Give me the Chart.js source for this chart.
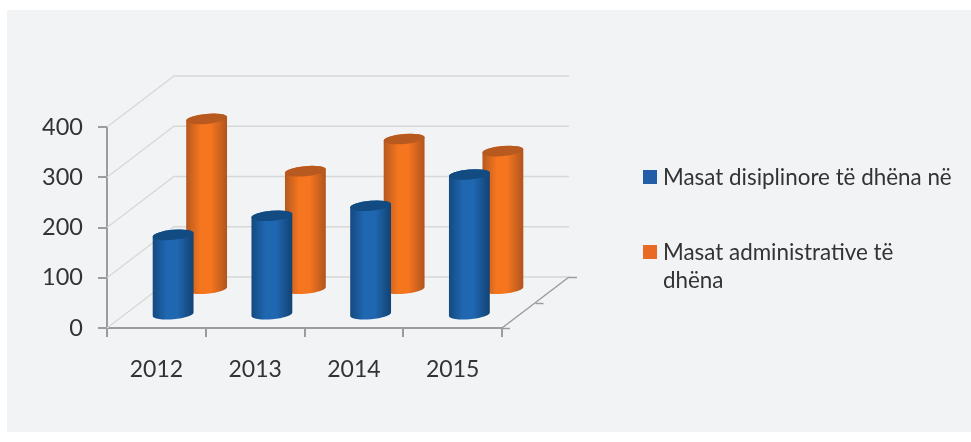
<!DOCTYPE html>
<html>
<head>
<meta charset="utf-8">
<title>Masat disiplinore dhe administrative</title>
<script src="https://cdn.jsdelivr.net/npm/chart.js@4/dist/chart.umd.min.js"></script>
<style>
  html, body { margin: 0; background: #fff; }
  #panel { position: absolute; left: 7px; top: 10px; width: 964px; height: 422px; background: #f1f3f5; }
  #wrap { position: absolute; left: 0; top: 0; width: 971px; height: 442px; }
  .legend-item { position: absolute; left: 663px; width: 292px; font: 22.4px/28px Lato, sans-serif; color: #333; }
  .legend-item i { position: absolute; left: -20px; top: 7px; width: 14px; height: 14px; }
</style>
</head>
<body>
<div id="panel"></div>
<div id="wrap"><canvas id="chart" width="971" height="442"></canvas></div>
<script>
const years = ['2012', '2013', '2014', '2015'];
const seriesNames = ['Masat disiplinore të dhëna në', 'Masat administrative të dhëna'];
const disiplinore = [160, 198, 218, 280];
const administrative = [340, 236, 300, 276];
const yTicks = [0, 100, 200, 300, 400];

// pseudo-3D box: the back wall sits this far from the front plane
const DEPTH_X = 67;
const DEPTH_Y = 51;
const TILT = 0.09;       // cylinder caps lean slightly upward on the right
const CAP_RY = 5;
const rowDepth = [0.25, 0.75];   // each series has its own row along the depth axis

const GRID = '#d8d8d5';
const AXIS = '#9c9c9c';

const palette = [
  { edgeL: '#144a80', mid: '#2067b2', edgeR: '#124272', cap: '#124a82', swatch: '#225ea8' },
  { edgeL: '#b5591f', mid: '#f6761f', edgeR: '#b0541d', cap: '#b8591f', swatch: '#e96a24' }
];

// walls, floor and the depth ticks behind the bars
const box3d = {
  id: 'box3d',
  beforeDatasetsDraw(chart) {
    const { ctx, chartArea: a, scales: { y } } = chart;
    ctx.save();
    ctx.lineWidth = 1.3;
    ctx.strokeStyle = GRID;
    yTicks.forEach(v => {
      const py = y.getPixelForValue(v);
      ctx.beginPath();
      ctx.moveTo(a.left, py);
      ctx.lineTo(a.left + DEPTH_X, py - DEPTH_Y);
      ctx.lineTo(a.right + DEPTH_X, py - DEPTH_Y);
      ctx.stroke();
    });
    // right floor edge
    const y0 = y.getPixelForValue(0);
    ctx.strokeStyle = AXIS;
    ctx.lineWidth = 1.5;
    ctx.beginPath();
    ctx.moveTo(a.right, y0);
    ctx.lineTo(a.right + DEPTH_X, y0 - DEPTH_Y);
    ctx.stroke();
    [0, 0.5, 1].forEach(d => {
      const tx = a.right + DEPTH_X * d;
      const ty = Math.round(y0 - DEPTH_Y * d) + 0.5;
      ctx.beginPath();
      ctx.moveTo(tx, ty);
      ctx.lineTo(tx + 8, ty);
      ctx.stroke();
    });
    ctx.restore();
  },
  // replaces the flat bar with a cylinder standing on its depth row
  beforeDatasetDraw(chart, args) {
    const { ctx } = chart;
    const colors = palette[args.index];
    const depth = rowDepth[args.index];
    args.meta.data.forEach(bar => {
      const cx = bar.x + DEPTH_X * depth;
      const top = bar.y - DEPTH_Y * depth;
      const bottom = bar.base - DEPTH_Y * depth;
      const rx = bar.width / 2;
      const grad = ctx.createLinearGradient(cx - rx, 0, cx + rx, 0);
      grad.addColorStop(0, colors.edgeL);
      grad.addColorStop(0.35, colors.mid);
      grad.addColorStop(0.6, colors.mid);
      grad.addColorStop(1, colors.edgeR);
      ctx.save();
      ctx.beginPath();
      ctx.ellipse(cx, bottom, rx, CAP_RY, -TILT, 0, Math.PI);
      ctx.ellipse(cx, top, rx, CAP_RY, -TILT, Math.PI, Math.PI * 2);
      ctx.closePath();
      ctx.fillStyle = grad;
      ctx.fill();
      ctx.beginPath();
      ctx.ellipse(cx, top, rx, CAP_RY, -TILT, 0, Math.PI * 2);
      ctx.fillStyle = colors.cap;
      ctx.fill();
      ctx.restore();
    });
    return false;
  }
};

new Chart(document.getElementById('chart'), {
  type: 'bar',
  data: {
    labels: years,
    datasets: [
      { label: seriesNames[0], data: disiplinore, backgroundColor: palette[0].swatch, barThickness: 41, grouped: false },
      { label: seriesNames[1], data: administrative, backgroundColor: palette[1].swatch, barThickness: 41, grouped: false }
    ]
  },
  options: {
    responsive: false,
    animation: false,
    layout: { padding: { top: 127, right: 469, left: 0, bottom: 0 } },
    plugins: { legend: { display: false }, tooltip: { enabled: false } },
    scales: {
      x: {
        afterFit: s => { s.height = 114; },
        grid: { offset: true, drawOnChartArea: false, color: AXIS, lineWidth: 2, tickLength: 9, tickColor: AXIS },
        border: { color: AXIS, width: 2 },
        ticks: { color: '#333', font: { family: 'Lato', size: 23 }, padding: 19, maxRotation: 0 }
      },
      y: {
        min: 0, max: 400,
        afterFit: s => { s.width = 107; },
        afterBuildTicks: s => { s.ticks = yTicks.map(v => ({ value: v })); },
        grid: { drawOnChartArea: false, color: AXIS, lineWidth: 2, tickLength: 9, tickColor: AXIS },
        border: { color: AXIS, width: 2 },
        ticks: { color: '#333', font: { family: 'Lato', size: 23.5 }, padding: 15 }
      }
    }
  },
  plugins: [box3d]
});

// legend on the right, wraps like a normal text block
const tops = [163, 238];
seriesNames.forEach((name, i) => {
  const item = document.createElement('div');
  item.className = 'legend-item';
  item.style.top = tops[i] + 'px';
  item.innerHTML = '<i style="background:' + palette[i].swatch + '"></i>' + name;
  document.getElementById('wrap').appendChild(item);
});
</script>
</body>
</html>
